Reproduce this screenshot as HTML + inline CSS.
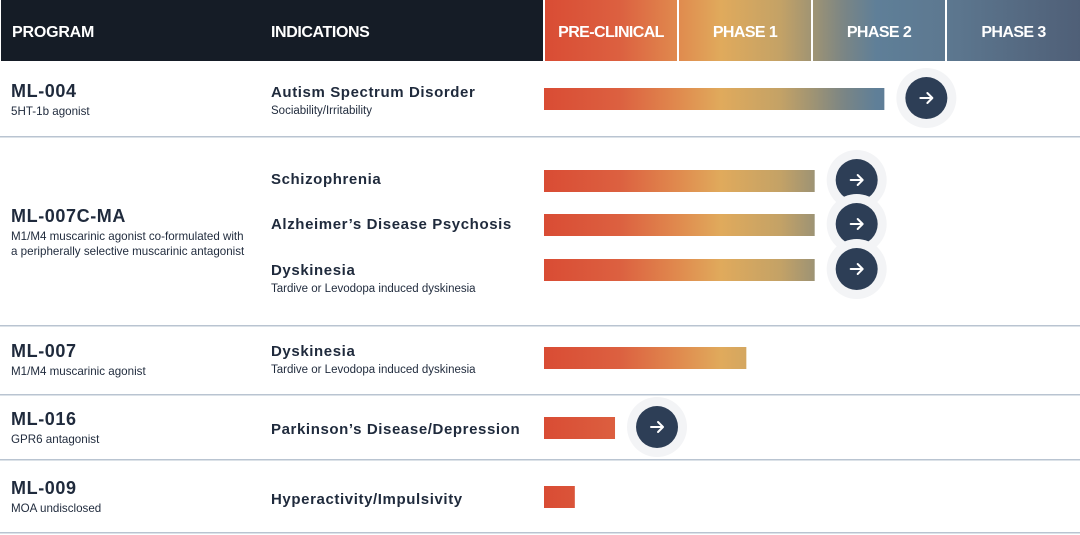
<!DOCTYPE html>
<html><head><meta charset="utf-8">
<style>
html,body{margin:0;padding:0;background:#fff;width:1080px;height:535px;overflow:hidden}
svg{display:block}
text{font-family:"Liberation Sans",sans-serif}
</style></head>
<body>
<svg id="chart" width="1080" height="535" viewBox="0 0 1080 535" xmlns="http://www.w3.org/2000/svg">
<defs>
<linearGradient id="pg" gradientUnits="userSpaceOnUse" x1="544" y1="0" x2="1080" y2="0">
<stop offset="0" stop-color="#d94c34"/>
<stop offset="0.14" stop-color="#dc6040"/>
<stop offset="0.25" stop-color="#e08a4e"/>
<stop offset="0.33" stop-color="#e0aa5c"/>
<stop offset="0.44" stop-color="#c4a266"/>
<stop offset="0.5" stop-color="#a09473"/>
<stop offset="0.56" stop-color="#7a8585"/>
<stop offset="0.62" stop-color="#5f7f98"/>
<stop offset="0.75" stop-color="#5d7890"/>
<stop offset="1" stop-color="#4f5f77"/>
</linearGradient>
</defs>
<rect x="1" y="0" width="542" height="61" fill="#151c26"/>
<text x="12" y="37" fill="#fff" font-size="16" font-weight="bold" letter-spacing="-0.2">PROGRAM</text>
<text x="271" y="37" fill="#fff" font-size="16" font-weight="bold" letter-spacing="-0.4">INDICATIONS</text>
<g id="phases"></g>
<g id="rows"></g>
</svg>
<script>
const phaseLabels = ["PRE-CLINICAL","PHASE 1","PHASE 2","PHASE 3"];
const programs = ["ML-004","ML-007C-MA","ML-007","ML-016","ML-009"];
const indications = ["Autism Spectrum Disorder","Schizophrenia","Alzheimer’s Disease Psychosis","Dyskinesia","Dyskinesia","Parkinson’s Disease/Depression","Hyperactivity/Impulsivity"];
const progress = [2.54, 2.02, 2.02, 2.02, 1.51, 0.53, 0.23];
const hasArrow = [true, true, true, true, false, true, false];

const NS="http://www.w3.org/2000/svg";
const X0=544, PW=134;
function xs(v){return X0+v*PW;}
function mk(tag,attrs,parent,txt){const e=document.createElementNS(NS,tag);for(const k in attrs)e.setAttribute(k,attrs[k]);if(txt!==undefined)e.textContent=txt;parent.appendChild(e);return e;}

const ph=document.getElementById('phases');
phaseLabels.forEach((p,i)=>{
  const x=xs(i)+1, w=(i==3?1080-x:PW-2);
  const r=mk('rect',{x:x,y:0,width:w,height:61,fill:'url(#pg)'},ph);
  
  
  const t=mk('text',{x:x+w/2,y:37,'text-anchor':'middle',fill:'#fff','font-size':16,'font-weight':'bold','letter-spacing':'-0.6'},ph,p);
  
  
});

const rows=document.getElementById('rows');
const dark="#1f2a3c";
[137,326,395,460,533].forEach(y=>{
  const l=mk('rect',{x:0,y:y-1,width:1080,height:1.5,fill:'#b9c4d1'},rows);
  
  
});
const progY=[97,222,357,425,494];
const progSub=[["5HT-1b agonist"],["M1/M4 muscarinic agonist co-formulated with","a peripherally selective muscarinic antagonist"],["M1/M4 muscarinic agonist"],["GPR6 antagonist"],["MOA undisclosed"]];
programs.forEach((p,i)=>{
  const t=mk('text',{x:11,y:progY[i],fill:dark,'font-size':18,'font-weight':'bold','letter-spacing':'0.6'},rows,p);
  
  
  progSub[i].forEach((s,j)=>{
    const u=mk('text',{x:11,y:progY[i]+18+j*15,fill:dark,'font-size':11.6},rows,s);
    
    
  });
});
const rowY=[99,181,225,270,358,428,497];
const indSub=["Sociability/Irritability","","","Tardive or Levodopa induced dyskinesia","Tardive or Levodopa induced dyskinesia","",""];
const indTY=[97,184,229,275,356,434,504];
indications.forEach((n,i)=>{
  const t=mk('text',{x:271,y:indTY[i],fill:dark,'font-size':15,'font-weight':'bold','letter-spacing':'0.6'},rows,n);
  
  
  if(indSub[i]){
    const u=mk('text',{x:271,y:indTY[i]+17,fill:dark,'font-size':11.5},rows,indSub[i]);
    
    
  }
  const x1=xs(progress[i]);
  const b=mk('rect',{x:X0,y:rowY[i]-11,width:x1-X0,height:22,fill:'url(#pg)'},rows);
  
  
  if(hasArrow[i]){
    const cx=x1+42, cy=rowY[i]-1;
    const g=mk('g',{},rows);
    
    
    mk('circle',{cx:cx,cy:cy,r:30,fill:'#f3f4f6'},g);
    mk('circle',{cx:cx,cy:cy,r:21,fill:'#2d3e56'},g);
    mk('path',{d:`M${cx-6} ${cy}H${cx+6}M${cx+1} ${cy-5}L${cx+6} ${cy}L${cx+1} ${cy+5}`,stroke:'#fff','stroke-width':2,fill:'none','stroke-linecap':'round','stroke-linejoin':'round'},g);
  }
});
</script>
</body></html>
